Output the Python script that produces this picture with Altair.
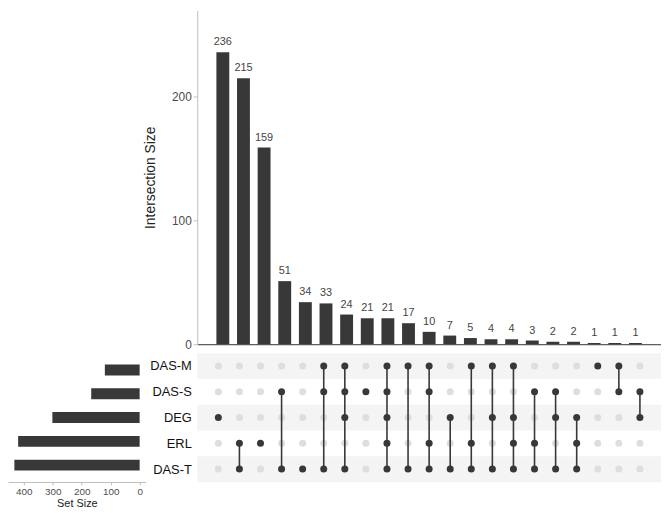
import json
import altair as alt
import pandas as pd

# ---------------- data ----------------
sets = ["DAS-M", "DAS-S", "DEG", "ERL", "DAS-T"]
set_sizes = [120, 167, 301, 419, 432]
intersection_sizes = [236, 215, 159, 51, 34, 33, 24, 21, 21, 17, 10, 7, 5, 4, 4, 3, 2, 2, 1, 1, 1]
intersection_members = [
    ["DEG"],
    ["ERL", "DAS-T"],
    ["ERL"],
    ["DAS-S", "DAS-T"],
    ["DAS-T"],
    ["DAS-M", "DAS-S", "DAS-T"],
    ["DAS-M", "DAS-S", "DEG", "DAS-T"],
    ["DAS-S"],
    ["DAS-M", "DAS-S", "DEG", "ERL", "DAS-T"],
    ["DAS-M", "DAS-T"],
    ["DAS-M", "DAS-S", "ERL", "DAS-T"],
    ["DEG", "DAS-T"],
    ["DAS-M", "ERL", "DAS-T"],
    ["DAS-M", "DEG", "DAS-T"],
    ["DAS-M", "DEG", "ERL", "DAS-T"],
    ["DAS-S", "ERL", "DAS-T"],
    ["DAS-S", "DEG", "DAS-T"],
    ["DEG", "ERL", "DAS-T"],
    ["DAS-M"],
    ["DAS-M", "DAS-S"],
    ["DAS-S", "DEG"],
]

# ---------------- styling ----------------
DARK = "#383838"
GREY_DOT = "#dedede"
STRIPE = "#f4f4f4"
AXIS_GREY = "#bdbdbd"
LABEL_GREY = "#4d4d4d"
FONT = "Liberation Sans"

W_LEFT = 139
W_MAIN = 468
H_TOP = 337
H_MAT = 130

n_cols = len(intersection_sizes)
cols = list(range(1, n_cols + 1))

# ---------------- tables ----------------
top_df = pd.DataFrame({"col": cols, "size": intersection_sizes})
left_df = pd.DataFrame({"set": sets, "idx": list(range(len(sets))), "size": set_sizes})

dot_rows = []
line_rows = []
for c, members in zip(cols, intersection_members):
    idxs = [sets.index(m) for m in members]
    for i, s in enumerate(sets):
        dot_rows.append({"col": c, "idx": i, "filled": "yes" if s in members else "no"})
    if len(idxs) > 1:
        line_rows.append({"col": c, "lo": min(idxs), "hi": max(idxs)})
dot_df = pd.DataFrame(dot_rows)
line_df = pd.DataFrame(line_rows)
stripe_df = pd.DataFrame({"idx": [i for i in range(len(sets)) if i % 2 == 0]})
stripe_df["y0"] = stripe_df["idx"] - 0.5
stripe_df["y1"] = stripe_df["idx"] + 0.5

# ---------------- scales ----------------
xscale = alt.Scale(domain=[0, n_cols + 1], nice=False, zero=False)
yrow = alt.Scale(domain=[-0.5, len(sets) - 0.5], reverse=True, nice=False, zero=False)
label_expr = json.dumps(sets) + "[datum.value]"

# ---------------- top: intersection sizes ----------------
top_base = alt.Chart(top_df).encode(
    x=alt.X("col:Q", scale=xscale,
            axis=alt.Axis(labels=False, ticks=False, title=None, grid=False,
                          domainColor="#333333", domainWidth=1)),
    y=alt.Y("size:Q", scale=alt.Scale(domain=[0, 270], nice=False),
            axis=alt.Axis(values=[0, 100, 200], title="Intersection Size", grid=False,
                          domainColor=AXIS_GREY, tickColor=AXIS_GREY, tickSize=4,
                          labelColor=LABEL_GREY, labelFontSize=12, labelPadding=2,
                          titleFontSize=14, titleFontWeight="normal", titleColor="#222222",
                          titlePadding=14)),
)
top_bars = top_base.mark_bar(size=13, color=DARK).encode(y2=alt.datum(0))
top_text = top_base.mark_text(dy=-10, fontSize=11, color="#444444", font=FONT).encode(text="size:Q")
top = alt.layer(top_bars, top_text).properties(width=W_MAIN, height=H_TOP)

# ---------------- left: set sizes ----------------
left = alt.Chart(left_df).mark_bar(size=11, color=DARK).encode(
    y=alt.Y("idx:Q", scale=yrow, axis=None),
    x=alt.X("size:Q", scale=alt.Scale(domain=[-21, 454], reverse=True, nice=False, zero=False),
            axis=alt.Axis(values=[0, 100, 200, 300, 400], title="Set Size", grid=False,
                          domainColor=AXIS_GREY, tickColor=AXIS_GREY, tickSize=3,
                          labelColor=LABEL_GREY, labelFontSize=10, labelPadding=2,
                          titleFontSize=11, titleFontWeight="normal", titleColor="#222222",
                          titlePadding=1)),
    x2=alt.datum(0),
).properties(width=W_LEFT, height=H_MAT)

# ---------------- matrix ----------------
row_axis = alt.Axis(values=list(range(len(sets))), labelExpr=label_expr, title=None,
                    domain=False, ticks=False, grid=False, labelFontSize=13,
                    labelColor="#111111", labelPadding=6, labelOverlap=False,
                    tickCount=len(sets))

stripes = alt.Chart(stripe_df).mark_rect(color=STRIPE).encode(
    y=alt.Y("y0:Q", scale=yrow, axis=row_axis),
    y2="y1:Q",
    x=alt.value(0),
    x2=alt.value(W_MAIN),
)
grey_dots = alt.Chart(dot_df).transform_filter("datum.filled == 'no'").mark_circle(
    size=50, opacity=1, color=GREY_DOT).encode(
    x=alt.X("col:Q", scale=xscale, axis=None),
    y=alt.Y("idx:Q", scale=yrow, axis=row_axis),
)
lines = alt.Chart(line_df).mark_rule(color=DARK, strokeWidth=1.6).encode(
    x=alt.X("col:Q", scale=xscale, axis=None),
    y=alt.Y("lo:Q", scale=yrow, axis=row_axis),
    y2="hi:Q",
)
dark_dots = alt.Chart(dot_df).transform_filter("datum.filled == 'yes'").mark_circle(
    size=50, opacity=1, color=DARK).encode(
    x=alt.X("col:Q", scale=xscale, axis=None),
    y=alt.Y("idx:Q", scale=yrow, axis=row_axis),
)
matrix = alt.layer(stripes, grey_dots, lines, dark_dots).properties(width=W_MAIN, height=H_MAT)

# ---------------- spacer ----------------
spacer = alt.Chart(pd.DataFrame({"v": [0]})).mark_point(opacity=0).encode(
    x=alt.X("v:Q", axis=None), y=alt.Y("v:Q", axis=None)
).properties(width=W_LEFT, height=H_TOP)

chart = alt.concat(
    spacer, top, left, matrix, columns=2,
    spacing={"row": 9, "column": 52}, bounds="flush",
).properties(padding=0).configure(font=FONT).configure_view(stroke=None, strokeWidth=0)

chart.save("out.html", embed_options={"renderer": "svg", "actions": False})
